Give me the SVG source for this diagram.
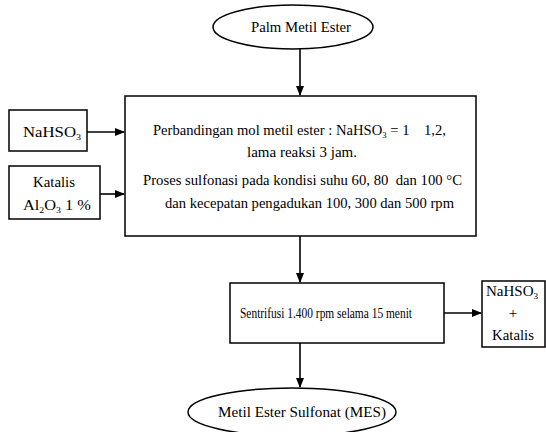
<svg xmlns="http://www.w3.org/2000/svg" width="546" height="432" viewBox="0 0 546 432">
<defs>
<marker id="ah" markerWidth="10" markerHeight="8" refX="9" refY="4" orient="auto" markerUnits="userSpaceOnUse">
<path d="M0,0 L10,4 L0,8 Z" fill="#000"/>
</marker>
<style>
.box{fill:#fff;stroke:#000;stroke-width:1.5}
.t{font-family:"Liberation Serif","Times New Roman",serif;font-size:15px;fill:#000}
.c{text-anchor:middle}
.ln{stroke:#000;stroke-width:1.6;fill:none}
.sub{font-size:9px;baseline-shift:-3px}
</style>
</defs>
<rect width="546" height="432" fill="#fff"/>
<g id="connectors">
<line class="ln" x1="300" y1="49" x2="300" y2="95" marker-end="url(#ah)"/>
<line class="ln" x1="87" y1="132" x2="124" y2="132" marker-end="url(#ah)"/>
<line class="ln" x1="100" y1="194" x2="124" y2="194" marker-end="url(#ah)"/>
<line class="ln" x1="300" y1="236" x2="300" y2="282" marker-end="url(#ah)"/>
<line class="ln" x1="444" y1="313" x2="481" y2="313" marker-end="url(#ah)"/>
<line class="ln" x1="300" y1="343" x2="300" y2="387" marker-end="url(#ah)"/>
</g>
<g id="palm">
<ellipse class="box" cx="293" cy="27" rx="80" ry="22"/>
<text class="t c" x="301" y="32" textLength="100" lengthAdjust="spacingAndGlyphs">Palm Metil Ester</text>
</g>
<g id="nahso3-in">
<rect class="box" x="9" y="110" width="78" height="41"/>
<text class="t" x="23" y="137" textLength="58" lengthAdjust="spacingAndGlyphs">NaHSO<tspan class="sub">3</tspan></text>
</g>
<g id="katalis-in">
<rect class="box" x="9" y="166" width="91" height="53"/>
<text class="t c" x="54" y="187" textLength="42" lengthAdjust="spacingAndGlyphs">Katalis</text>
<text class="t" x="23" y="210" textLength="68" lengthAdjust="spacingAndGlyphs">Al<tspan class="sub">2</tspan>O<tspan class="sub">3</tspan> 1 %</text>
</g>
<g id="proses">
<rect class="box" x="125" y="96" width="351" height="140"/>
<text class="t" x="153" y="135" textLength="293" lengthAdjust="spacingAndGlyphs">Perbandingan mol metil ester : NaHSO<tspan class="sub">3</tspan> = 1&#160;&#160;&#160;&#160;1,2,</text>
<text class="t c" x="302" y="157" textLength="110" lengthAdjust="spacingAndGlyphs">lama reaksi 3 jam.</text>
<text class="t" x="143" y="185" textLength="319" lengthAdjust="spacingAndGlyphs">Proses sulfonasi pada kondisi suhu 60, 80&#160;&#160;dan 100 °C</text>
<text class="t" x="165" y="208" textLength="289" lengthAdjust="spacingAndGlyphs">dan kecepatan pengadukan 100, 300 dan 500 rpm</text>
</g>
<g id="sentrifusi">
<rect class="box" x="230" y="283" width="214" height="60"/>
<text class="t" x="240" y="318" textLength="172" lengthAdjust="spacingAndGlyphs">Sentrifusi 1.400 rpm selama 15 menit</text>
</g>
<g id="nahso3-out">
<rect class="box" x="482" y="281" width="63" height="66"/>
<text class="t c" x="512" y="296" textLength="52" lengthAdjust="spacingAndGlyphs">NaHSO<tspan class="sub">3</tspan></text>
<text class="t c" x="513" y="318">+</text>
<text class="t c" x="513" y="340" textLength="42" lengthAdjust="spacingAndGlyphs">Katalis</text>
</g>
<g id="mes">
<ellipse class="box" cx="292" cy="412" rx="104" ry="24"/>
<text class="t c" x="302" y="417" textLength="168" lengthAdjust="spacingAndGlyphs">Metil Ester Sulfonat (MES)</text>
</g>
</svg>
